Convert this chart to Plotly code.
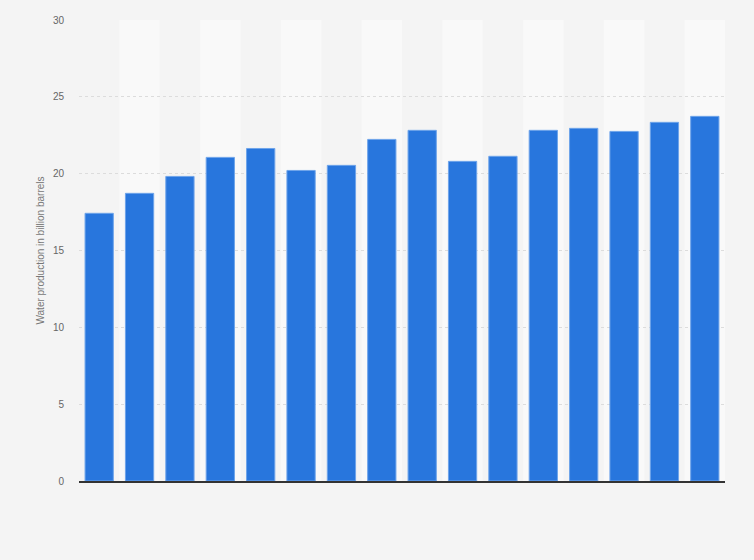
import plotly.graph_objects as go

years = [str(y) for y in range(2000, 2016)]
water_bn_bbl = [17.42, 18.72, 19.82, 21.06, 21.64, 20.21, 20.54, 22.23,
                22.82, 20.8, 21.13, 22.82, 22.95, 22.75, 23.34, 23.73]
y_ticks = [0, 5, 10, 15, 20, 25, 30]

fig = go.Figure()
fig.add_trace(go.Bar(
    x=years,
    y=water_bn_bbl,
    marker=dict(color="#2876dd", line=dict(color="#6ea4ea", width=1)),
    hovertemplate="%{x}: %{y}<extra></extra>",
))

# alternating column bands behind the bars
for i, yr in enumerate(years):
    if i % 2 == 1:
        fig.add_shape(type="rect", xref="x", yref="paper",
                      x0=i - 0.5, x1=i + 0.5, y0=0, y1=1,
                      fillcolor="#f9f9f9", line_width=0, layer="below")

fig.update_layout(
    width=754,
    height=560,
    margin=dict(l=79, r=29, t=20, b=79),
    paper_bgcolor="#f4f4f4",
    plot_bgcolor="#f4f4f4",
    bargap=0.3,
    showlegend=False,
    font=dict(family="Liberation Sans, Arial, sans-serif", size=10, color="#666666"),
)
fig.update_xaxes(
    showticklabels=False,
    showgrid=False,
    showline=True,
    linecolor="#333333",
    linewidth=1.5,
    ticks="",
)
fig.update_yaxes(
    range=[0, 30],
    tickvals=y_ticks,
    showgrid=True,
    gridcolor="#dcdcdc",
    griddash="dot",
    zeroline=False,
    ticks="",
    ticklabelstandoff=14,
    title=dict(text="Water production in billion barrels",
               font=dict(size=10, color="#777777"), standoff=6),
)

fig.write_html("out.html", config={"displayModeBar": False},
               post_script="document.body.style.margin='0';")
